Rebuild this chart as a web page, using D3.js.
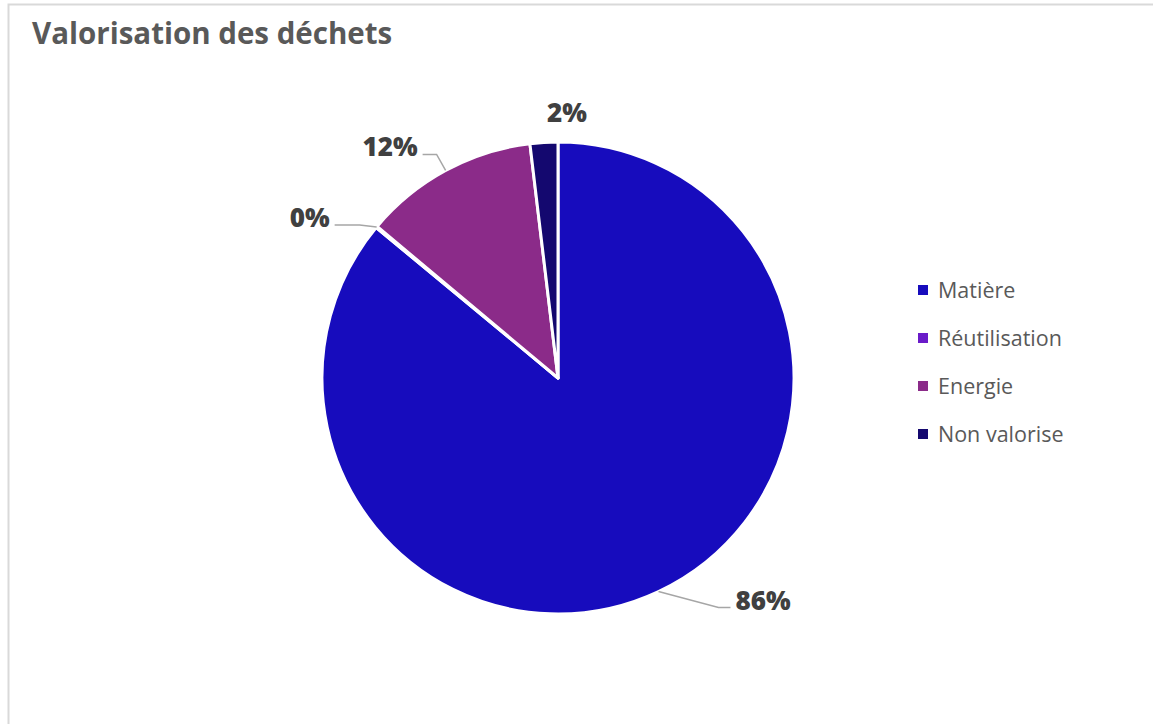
<!DOCTYPE html>
<html>
<head>
<meta charset="utf-8">
<script src="https://cdn.jsdelivr.net/npm/d3@7"></script>
<style>
  body { margin: 0; background: #fff; font-family: "Open Sans", "Noto Sans", sans-serif; }
</style>
</head>
<body>
<script>
const categories = ['Matière', 'Réutilisation', 'Energie', 'Non valorise'];
const values = [86.0, 0.1, 12.0, 1.9];
const colors = ['#170cbd', '#6a1bc9', '#8b2b89', '#14086f'];

const width = 1153, height = 724;
const cx = 558, cy = 378, r = 236;

const svg = d3.select('body').append('svg')
  .attr('width', width)
  .attr('height', height);

// frame of the chart area
svg.append('rect')
  .attr('x', 8.5).attr('y', 4.5)
  .attr('width', 1160).attr('height', 740)
  .attr('fill', '#fff')
  .attr('stroke', '#d9d9d9')
  .attr('stroke-width', 2);

svg.append('text')
  .attr('x', 32)
  .attr('y', 44)
  .attr('fill', '#595959')
  .attr('font-size', 29.5)
  .attr('font-weight', 'bold')
  .text('Valorisation des déchets');

const pie = d3.pie().sort(null).value(d => d);
const arcs = pie(values);
const arc = d3.arc().innerRadius(0).outerRadius(r);

const g = svg.append('g').attr('transform', `translate(${cx},${cy})`);

g.selectAll('path')
  .data(arcs)
  .enter()
  .append('path')
  .attr('d', arc)
  .attr('fill', (d, i) => colors[i])
  .attr('stroke', '#fff')
  .attr('stroke-width', 3)
  .attr('stroke-linejoin', 'round');

// label placement relative to the slice edge: [elbow dx, elbow dy, end dx]
const labelNudge = [
  [60, 16, 12],
  [-17, -2, -25],
  [-9, -16, -14],
  null
];

const total = d3.sum(values);
const fmt = v => Math.round(v / total * 100) + '%';

arcs.forEach((a, i) => {
  const mid = (a.startAngle + a.endAngle) / 2;
  const ex = Math.sin(mid) * r, ey = -Math.cos(mid) * r;
  const n = labelNudge[i];
  if (n) {
    const bx = ex + n[0], by = ey + n[1];
    const tx = bx + n[2];
    g.append('polyline')
      .attr('points', [[ex, ey], [bx, by], [tx, by]].map(p => p.join(',')).join(' '))
      .attr('fill', 'none')
      .attr('stroke', '#a6a6a6')
      .attr('stroke-width', 1.5);
    g.append('text')
      .attr('x', tx + (n[2] > 0 ? 5 : -5))
      .attr('y', by + 2)
      .attr('text-anchor', n[2] > 0 ? 'start' : 'end')
      .attr('fill', '#404040')
      .attr('font-size', 26)
      .attr('font-weight', 800)
      .text(fmt(values[i]));
  } else {
    g.append('text')
      .attr('x', ex + 23)
      .attr('y', ey - 20)
      .attr('text-anchor', 'middle')
      .attr('fill', '#404040')
      .attr('font-size', 26)
      .attr('font-weight', 800)
      .text(fmt(values[i]));
  }
});

const legendY = d3.scalePoint()
  .domain(categories)
  .range([290, 434]);

const legend = svg.append('g');
const items = legend.selectAll('g')
  .data(categories)
  .enter()
  .append('g')
  .attr('transform', d => `translate(918,${legendY(d)})`);

items.append('rect')
  .attr('x', 0).attr('y', -5)
  .attr('width', 10).attr('height', 10)
  .attr('fill', (d, i) => colors[i]);

items.append('text')
  .attr('x', 20)
  .attr('y', 7.5)
  .attr('fill', '#595959')
  .attr('font-size', 21.5)
  .text(d => d);
</script>
</body>
</html>
